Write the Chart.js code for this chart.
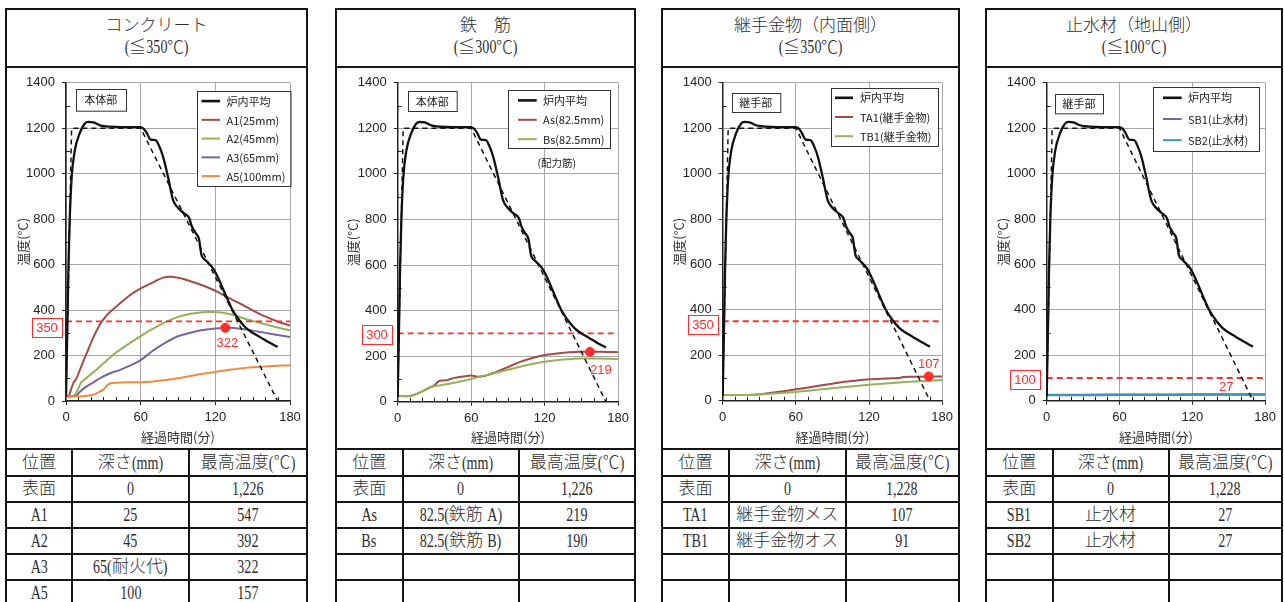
<!DOCTYPE html>
<html><head><meta charset="utf-8">
<script src="https://cdn.jsdelivr.net/npm/chart.js@4.4.1/dist/chart.umd.min.js"></script>
<style>
html,body{margin:0;padding:0;background:#fff;}
body{width:1284px;height:602px;overflow:hidden;position:relative;font-family:'Liberation Serif','Noto Sans CJK JP',serif;color:#2e2e2e;font-weight:300;}
.box{position:absolute;box-sizing:border-box;border:2px solid #151515;border-bottom:none;top:8px;height:620px;}
.hl{position:absolute;height:2px;background:#151515;}
.vl{position:absolute;width:2px;background:#151515;}
.title{position:absolute;text-align:center;font-size:17px;line-height:22px;white-space:nowrap;}
.cell{position:absolute;display:flex;align-items:center;justify-content:center;font-size:17px;line-height:20px;white-space:nowrap;}
.cell>span{display:block;line-height:20px;}
.cond{display:inline-block;transform:scaleX(0.76);font-size:18.5px;line-height:20px;vertical-align:top;font-family:'Liberation Serif',serif;font-weight:400;}
canvas{position:absolute;}
</style></head><body>
<script>
// ---------------- data ----------------
const furnaceTime = [0,1,2,3,4.5,7,11,15,18,22,28,35,45,60,61,63,65,68,72,75,78,82,86,90,95,99,101,104,107,108,109,112,118,122,126,130,134,140,145,150,156,163,170];
const furnaceTemp = [20,300,600,800,980,1100,1178,1220,1228,1226,1212,1207,1205,1205,1203,1195,1178,1150,1148,1120,1075,985,885,850,825,805,770,740,710,670,640,620,585,545,495,445,398,350,320,300,281,258,238];
const standardTime = [0,4.5,60,170];
const standardTemp = [20,1200,1200,0];

const a1Time = [0,2,4,6,8,11,14,17,22,28,32,36,41,50,60,70,78,84,90,100,110,120,130,140,150,160,170,180];
const a1Temp = [20,22,50,80,95,135,175,215,280,343,372,395,418,460,495,522,543,547,542,527,508,485,456,428,399,372,350,332];
const a2Time = [0,6,9,12,15,20,25,30,40,50,60,70,80,90,100,110,117,125,135,145,155,165,180];
const a2Temp = [20,22,45,80,95,118,140,165,212,250,285,318,347,370,384,391,392,389,377,360,345,330,310];
const a3Time = [0,8,11,16,22,27,35,43,50,60,70,80,90,100,110,120,128,135,145,155,165,180];
const a3Temp = [20,22,40,62,82,99,121,136,152,180,222,257,285,300,312,319,322,321,314,305,295,281];
const a5Time = [0,10,20,25,30,33,36,40,50,60,70,80,90,100,110,120,130,140,150,160,170,180];
const a5Temp = [20,20,25,35,50,68,78,80,82,83,86,92,100,110,120,128,136,143,148,152,155,157];

const asTime = [0,5,10,15,20,25,30,33,36,40,43,50,55,60,65,70,80,90,100,110,120,130,140,150,157,165,180];
const asTemp = [25,24,25,33,45,60,72,88,93,94,100,108,112,115,110,112,130,152,175,192,205,212,217,219,219,219,217];
const bsTime = [0,10,20,28,35,45,60,75,90,105,120,135,150,165,180];
const bsTemp = [25,25,45,65,72,82,100,120,140,160,175,185,190,190,187];

const ta1Time = [0,20,30,40,50,60,70,80,90,100,110,120,130,140,145,148,155,170,180];
const ta1Temp = [25,25,28,35,42,50,58,67,75,83,89,94,97,99,100,104,106,107,107];
const tb1Time = [0,20,30,60,90,120,150,180];
const tb1Temp = [25,25,27,38,55,70,82,91];

const sbTime = [0,30,60,90,120,150,180];
const sb1Temp = [25,25,26,26,27,27,27];
const sb2Temp = [25,25,26,26,27,27,27];

const limitSpan = [0,180];
const limitConcrete = 350, limitRebar = 300, limitJoint = 350, limitSeal = 100;

const peakConcrete = {t:128, v:322, text:'322', dot:true};
const peakRebar = {t:157, v:219, text:'219', dot:true};
const peakJoint = {t:169, v:107, text:'107', dot:true};
const peakSeal = {t:148, v:27, text:'27', dot:false};

const xMin = 0, xMax = 180, xStep = 60;
const yMin = 0, yMax = 1400, yStep = 200;
const minorTicksX = [10,20,30,40,50,70,80,90,100,110,130,140,150,160,170];
const minorTicksY = [100,300,500,700,900,1100,1300];

const tableHeader = ['位置','深さ(mm)','最高温度(℃)'];
const rowsConcrete = [['表面','0','1,226'],['A1','25','547'],['A2','45','392'],['A3','65(耐火代)','322'],['A5','100','157']];
const rowsRebar = [['表面','0','1,226'],['As','82.5(鉄筋 A)','219'],['Bs','82.5(鉄筋 B)','190'],['','',''],['','','']];
const rowsJoint = [['表面','0','1,228'],['TA1','継手金物メス','107'],['TB1','継手金物オス','91'],['','',''],['','','']];
const rowsSeal = [['表面','0','1,228'],['SB1','止水材','27'],['SB2','止水材','27'],['','',''],['','','']];

// ---------------- styles ----------------
const RED = '#ff2d2d';
const C_A1 = '#a24b48', C_A2 = '#93b25a', C_A3 = '#7a63a3', C_A5 = '#ef8b43', C_SB2 = '#3f93ae';
const NARROW = "'Liberation Sans Narrow','Liberation Sans',Arial,sans-serif";
const JP = "'Noto Sans CJK JP',sans-serif";

const panels = [
  { title:['コンクリート','(≦350℃)'], tag:'本体部', limit:limitConcrete, peak:peakConcrete, rows:rowsConcrete, note:null,
    series:[['A1(25mm)',a1Time,a1Temp,C_A1],['A2(45mm)',a2Time,a2Temp,C_A2],['A3(65mm)',a3Time,a3Temp,C_A3],['A5(100mm)',a5Time,a5Temp,C_A5]] },
  { title:['鉄　筋','(≦300℃)'], tag:'本体部', limit:limitRebar, peak:peakRebar, rows:rowsRebar, note:'(配力筋)',
    series:[['As(82.5mm)',asTime,asTemp,C_A1],['Bs(82.5mm)',bsTime,bsTemp,C_A2]] },
  { title:['継手金物（内面側）','(≦350℃)'], tag:'継手部', limit:limitJoint, peak:peakJoint, rows:rowsJoint, note:null,
    series:[['TA1(継手金物)',ta1Time,ta1Temp,C_A1],['TB1(継手金物)',tb1Time,tb1Temp,C_A2]] },
  { title:['止水材（地山側）','(≦100℃)'], tag:'継手部', limit:limitSeal, peak:peakSeal, rows:rowsSeal, note:null,
    series:[['SB1(止水材)',sbTime,sb1Temp,C_A3],['SB2(止水材)',sbTime,sb2Temp,C_SB2]] },
];

const layout = [
  { L:5, W:303, cols:[72,189], pl:66, pr:290, pt:80, pb:401,
    legend:{x:130.5,y:8,w:93.5,h:95,row0:10.3,step:18.75,lx0:5,lx1:23.5,tx:30},
    tagBox:{x:9.7,y:6,w:50,h:21.7}, limBox:{gap:4,w:30,h:19,dy:6.5}, peakOff:{dx:2,dy:16}, noteAt:null },
  { L:335, W:301, cols:[402.5,519], pl:397.7, pr:620, pt:81.7, pb:401.7,
    legend:{x:110.3,y:7.3,w:102,h:58,row0:10.3,step:19.4,lx0:10,lx1:28.7,tx:35},
    tagBox:{x:10.3,y:8.3,w:48.7,h:20}, limBox:{gap:5.7,w:30,h:19,dy:1.5}, peakOff:{dx:11,dy:19}, noteAt:{x:159,y:80} },
  { L:661, W:299, cols:[729,845.5], pl:722.7, pr:942.7, pt:80, pb:400.7,
    legend:{x:108,y:5,w:107,h:58,row0:10,step:19.2,lx0:4.3,lx1:22.3,tx:29.3},
    tagBox:{x:9,y:10,w:48.3,h:19}, limBox:{gap:4.7,w:30,h:19,dy:3.3}, peakOff:{dx:0,dy:-12}, noteAt:null },
  { L:985, W:298, cols:[1052.5,1168.5], pl:1046.7, pr:1265.7, pt:80, pb:400.7,
    legend:{x:106.3,y:4,w:106,h:64,row0:11,step:21.2,lx0:10,lx1:28.7,tx:35},
    tagBox:{x:8.3,y:10.7,w:48,h:19.3}, limBox:{gap:6.7,w:30,h:19,dy:1.8}, peakOff:{dx:0,dy:-7}, noteAt:null },
];
const rowLines = [448,475,501,527,553,579];

// ---------------- helpers ----------------
function rich(el, str){
  const inner=document.createElement('span'); el.appendChild(inner);
  str.split(/([\x21-\x7e](?:[\x20-\x7e]*[\x21-\x7e])?)/).forEach(part=>{
    if(!part) return;
    if(/^[\x20-\x7e]+$/.test(part) && /[\x21-\x7e]/.test(part)){
      const s=document.createElement('span'); s.className='cond'; s.textContent=part; inner.appendChild(s);
    } else inner.appendChild(document.createTextNode(part.replace(/ /g,'\u00a0')));
  });
}
function div(cls, css){ const d=document.createElement('div'); d.className=cls; Object.assign(d.style,css); document.body.appendChild(d); return d; }
const pts = (xs,ys)=>xs.map((x,i)=>({x,y:ys[i]}));
function lineDs(label, xs, ys, color, width, extra){
  return Object.assign({label, data:pts(xs,ys), borderColor:color, backgroundColor:color, borderWidth:width,
    pointRadius:0, fill:false, tension:0.3, cubicInterpolationMode:'monotone'}, extra||{});
}

const overlay = {
  id:'overlay',
  beforeDatasetsDraw(chart, a, o){
    const {ctx, chartArea:ca, scales:{x,y}} = chart;
    ctx.save(); ctx.strokeStyle='#222'; ctx.lineWidth=1; ctx.beginPath();
    minorTicksX.forEach(v=>{const px=Math.round(x.getPixelForValue(v))+0.5; ctx.moveTo(px,ca.bottom); ctx.lineTo(px,ca.bottom-4);});
    minorTicksY.forEach(v=>{const py=Math.round(y.getPixelForValue(v))+0.5; ctx.moveTo(ca.left,py); ctx.lineTo(ca.left+4,py);});
    ctx.stroke(); ctx.restore();
  },
  afterDatasetsDraw(chart, a, o){
    const {ctx, chartArea:ca, scales:{x,y}} = chart;
    const g=o.g, d=o.d;
    ctx.save();
    const tb=g.tagBox;
    ctx.fillStyle='#fff'; ctx.fillRect(ca.left+tb.x, ca.top+tb.y, tb.w, tb.h);
    ctx.strokeStyle='#333'; ctx.lineWidth=1; ctx.strokeRect(Math.round(ca.left+tb.x)+0.5, Math.round(ca.top+tb.y)+0.5, tb.w, tb.h);
    ctx.fillStyle='#222'; ctx.font='11px '+JP; ctx.textAlign='center'; ctx.textBaseline='middle';
    ctx.fillText(d.tag, ca.left+tb.x+tb.w/2, ca.top+tb.y+tb.h/2+0.5);
    const lg=g.legend, lx=ca.left+lg.x, ly=ca.top+lg.y;
    ctx.fillStyle='#fff'; ctx.fillRect(lx,ly,lg.w,lg.h);
    ctx.strokeStyle='#333'; ctx.strokeRect(Math.round(lx)+0.5, Math.round(ly)+0.5, lg.w, lg.h);
    const items=[['炉内平均','#111',2.6]].concat(d.series.map(s=>[s[0],s[3],2]));
    items.forEach((it,i)=>{
      const yy=ly+lg.row0+i*lg.step;
      ctx.strokeStyle=it[1]; ctx.lineWidth=it[2]; ctx.beginPath(); ctx.moveTo(lx+lg.lx0,yy); ctx.lineTo(lx+lg.lx1,yy); ctx.stroke();
      ctx.fillStyle='#222'; ctx.font='11px '+JP; ctx.textAlign='left'; ctx.textBaseline='middle';
      ctx.fillText(it[0], lx+lg.tx, yy+0.5);
    });
    if(d.note && g.noteAt){ ctx.fillStyle='#222'; ctx.font='10.5px '+JP; ctx.textAlign='center'; ctx.fillText(d.note, ca.left+g.noteAt.x, ca.top+g.noteAt.y); }
    const lb=g.limBox, py=y.getPixelForValue(d.limit);
    const bx=ca.left-lb.gap-lb.w, by=py+lb.dy-lb.h/2;
    ctx.fillStyle='#fff'; ctx.fillRect(bx,by,lb.w,lb.h);
    ctx.strokeStyle=RED; ctx.lineWidth=1; ctx.strokeRect(Math.round(bx)+0.5, Math.round(by)+0.5, lb.w, lb.h);
    ctx.fillStyle=RED; ctx.font='13px '+NARROW; ctx.textAlign='center'; ctx.textBaseline='middle';
    ctx.fillText(String(d.limit), bx+lb.w/2, by+lb.h/2+0.5);
    const pk=d.peak;
    ctx.fillText(pk.text, x.getPixelForValue(pk.t)+g.peakOff.dx, y.getPixelForValue(pk.v)+g.peakOff.dy);
    ctx.restore();
  }
};

// ---------------- build ----------------
panels.forEach((d,i)=>{
  const g=layout[i];
  div('box',{left:g.L+'px',width:g.W+'px'});
  div('hl',{left:g.L+'px',width:g.W+'px',top:'66px'});
  const t=div('title',{left:g.L+'px',width:g.W+'px',top:'15px'});
  d.title.forEach(ln=>{ const s=document.createElement('div'); rich(s,ln); t.appendChild(s); });
  rowLines.forEach(yv=>div('hl',{left:g.L+'px',width:g.W+'px',top:yv+'px'}));
  g.cols.forEach(cx=>div('vl',{left:(cx-1)+'px',top:'448px',height:'160px'}));
  const xs=[g.L+2, g.cols[0]+1, g.cols[1]+1, g.L+g.W-2];
  const allRows=[tableHeader].concat(d.rows);
  allRows.forEach((r,ri)=>{
    const top=rowLines[ri]+2, bottom=(ri+1<rowLines.length?rowLines[ri+1]:605);
    r.forEach((txt,ci)=>{
      if(!txt) return;
      const c=div('cell',{left:xs[ci]+'px',width:(xs[ci+1]-xs[ci]-(ci<2?2:0))+'px',top:top+'px',height:(bottom-top)+'px'});
      rich(c,txt);
    });
  });

  const cw=g.W-4, ch=380;
  const canvas=document.createElement('canvas');
  canvas.width=cw; canvas.height=ch;
  Object.assign(canvas.style,{left:(g.L+2)+'px',top:'68px',width:cw+'px',height:ch+'px'});
  document.body.appendChild(canvas);
  const yw=g.pl-(g.L+2), padR=(g.L+2+cw)-g.pr, padT=g.pt-68, xh=68+ch-g.pb;

  const datasets=[];
  if(d.peak.dot) datasets.push({type:'scatter',label:'peak',data:[{x:d.peak.t,y:d.peak.v}],pointRadius:4.5,pointHoverRadius:4.5,backgroundColor:RED,borderColor:RED,showLine:false});
  datasets.push(lineDs('炉内平均',furnaceTime,furnaceTemp,'#111',2.3,{tension:0.2}));
  datasets.push(lineDs('標準',standardTime,standardTemp,'#111',1.5,{borderDash:[5,4],tension:0,cubicInterpolationMode:'default'}));
  datasets.push(lineDs('limit',limitSpan,[d.limit,d.limit],RED,1.8,{borderDash:[6,4],tension:0,cubicInterpolationMode:'default'}));
  d.series.slice().reverse().forEach(s=>datasets.push(lineDs(s[0],s[1],s[2],s[3],s[3]===C_SB2?2.6:2)));

  const tickFmt = v=>String(v);
  new Chart(canvas,{
    type:'line',
    data:{datasets},
    plugins:[overlay],
    options:{
      responsive:false, animation:false, devicePixelRatio:1, events:[],
      layout:{padding:{top:padT,right:padR,left:0,bottom:0}},
      plugins:{legend:{display:false},tooltip:{enabled:false},overlay:{g,d}},
      scales:{
        x:{type:'linear',min:xMin,max:xMax,afterFit:s=>{s.height=xh;},
          ticks:{stepSize:xStep,callback:tickFmt,font:{family:NARROW,size:13},color:'#222',padding:5,maxRotation:0,autoSkip:false},
          grid:{color:'#a8a8a8',lineWidth:1,tickLength:4,tickColor:'#222'},
          border:{color:'#222',width:1.5},
          title:{display:true,text:'経過時間(分)',font:{family:JP,size:13},color:'#333',padding:{top:0,bottom:3.5}}},
        y:{type:'linear',min:yMin,max:yMax,afterFit:s=>{s.width=yw;},
          ticks:{stepSize:yStep,callback:tickFmt,font:{family:NARROW,size:13},color:'#222',padding:7},
          grid:{color:'#a8a8a8',lineWidth:1,tickLength:4,tickColor:'#222'},
          border:{color:'#222',width:1.5},
          title:{display:true,text:'温度(°C)',font:{family:JP,size:13},color:'#333',padding:{top:8,bottom:0}}}
      }
    }
  });
});
document.querySelectorAll('.cond').forEach(s=>{ const w=s.offsetWidth; const m=-(w*0.24)/2; s.style.marginLeft=m+'px'; s.style.marginRight=m+'px'; });
</script>
</body></html>
